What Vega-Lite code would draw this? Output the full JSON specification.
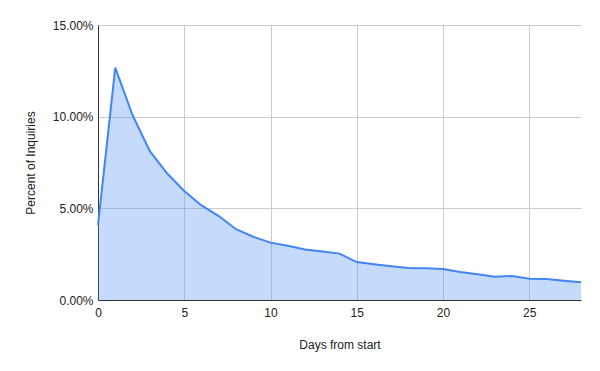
{
  "$schema": "https://vega.github.io/schema/vega-lite/v6.json",
  "autosize": "none",
  "width": 483,
  "height": 275,
  "padding": {"left": 98, "top": 25, "right": 19, "bottom": 71},
  "background": "white",
  "config": {
    "view": {"stroke": null},
    "font": "Liberation Sans",
    "axis": {
      "labelFont": "Liberation Sans",
      "titleFont": "Liberation Sans",
      "labelFontSize": 12,
      "titleFontSize": 12,
      "titleFontWeight": "normal",
      "labelColor": "#222222",
      "titleColor": "#222222",
      "gridColor": "#cccccc",
      "gridWidth": 1,
      "domainColor": "#333333",
      "domainWidth": 1,
      "ticks": false,
      "labelFlush": false
    }
  },
  "data": {
    "values": [
      {"day": 0, "pct": 0.0409},
      {"day": 1, "pct": 0.1267},
      {"day": 2, "pct": 0.1009},
      {"day": 3, "pct": 0.0813},
      {"day": 4, "pct": 0.0691},
      {"day": 5, "pct": 0.0595},
      {"day": 6, "pct": 0.0516},
      {"day": 7, "pct": 0.0458},
      {"day": 8, "pct": 0.0386},
      {"day": 9, "pct": 0.0345},
      {"day": 10, "pct": 0.0313},
      {"day": 11, "pct": 0.0296},
      {"day": 12, "pct": 0.0275},
      {"day": 13, "pct": 0.0264},
      {"day": 14, "pct": 0.0253},
      {"day": 15, "pct": 0.0207},
      {"day": 16, "pct": 0.0195},
      {"day": 17, "pct": 0.0184},
      {"day": 18, "pct": 0.0175},
      {"day": 19, "pct": 0.0173},
      {"day": 20, "pct": 0.0169},
      {"day": 21, "pct": 0.0153},
      {"day": 22, "pct": 0.0140},
      {"day": 23, "pct": 0.0127},
      {"day": 24, "pct": 0.0131},
      {"day": 25, "pct": 0.0116},
      {"day": 26, "pct": 0.0114},
      {"day": 27, "pct": 0.0105},
      {"day": 28, "pct": 0.0097}
    ]
  },
  "encoding": {
    "x": {
      "field": "day",
      "type": "quantitative",
      "scale": {"domain": [0, 28], "nice": false},
      "axis": {
        "title": "Days from start",
        "values": [0, 5, 10, 15, 20, 25],
        "labelPadding": 7,
        "titlePadding": 21,
        "domain": true
      }
    },
    "y": {
      "field": "pct",
      "type": "quantitative",
      "scale": {"domain": [0, 0.15], "nice": false},
      "axis": {
        "title": "Percent of Inquiries",
        "values": [0, 0.05, 0.1, 0.15],
        "format": ".2%",
        "labelPadding": 5,
        "titlePadding": 15,
        "domain": true
      }
    }
  },
  "layer": [
    {
      "mark": {"type": "area", "color": "#4285F4", "opacity": 0.3}
    },
    {
      "mark": {"type": "line", "color": "#4285F4", "strokeWidth": 2}
    }
  ]
}
